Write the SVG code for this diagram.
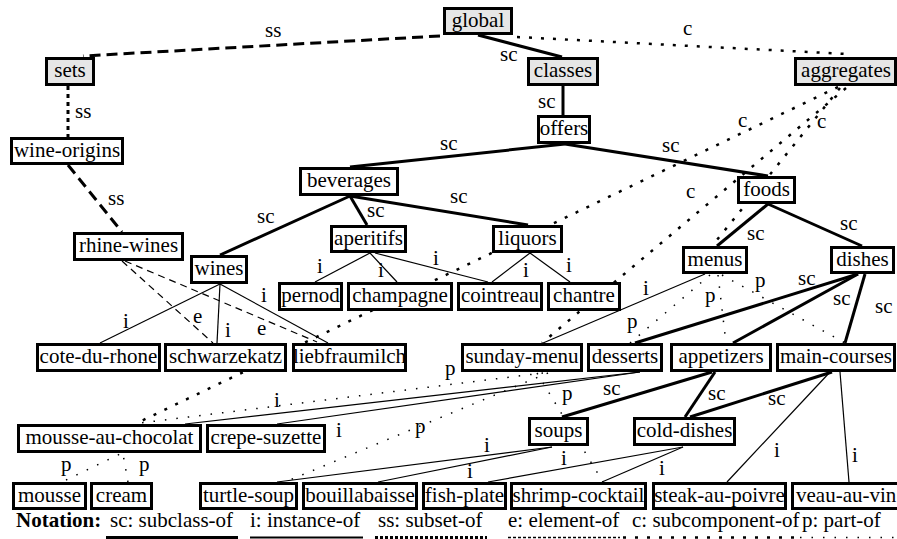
<svg xmlns="http://www.w3.org/2000/svg" width="897" height="539" viewBox="0 0 897 539" font-family="Liberation Serif" font-size="21">
<defs>
<rect id="bg" width="897" height="539" fill="#fff"/>
</defs>
<use href="#bg"/>
<g id="edges" fill="none" stroke="#000">
<g id="sc-edges" stroke-width="3">
<path d="M478,35L562,57"/>
<path d="M563,86L563,115"/>
<path d="M565,144L350,167"/>
<path d="M565,144L768,176"/>
<path d="M350,196L220,255"/>
<path d="M350,196L367,225"/>
<path d="M350,196L528,225"/>
<path d="M768,204L717,246"/>
<path d="M768,204L862,246"/>
<path d="M858,274L635,343"/>
<path d="M858,274L733,343"/>
<path d="M865,274L845,343"/>
<path d="M712,372L562,417"/>
<path d="M715,372L685,417"/>
<path d="M832,372L690,417"/>
</g>
<g id="i-edges" stroke-width="1.2">
<path d="M370,253L315,282"/>
<path d="M370,253L397,282"/>
<path d="M375,253L488,282"/>
<path d="M530,253L492,282"/>
<path d="M530,253L570,282"/>
<path d="M220,284L100,343"/>
<path d="M220,284L217,343"/>
<path d="M220,284L328,343"/>
<path d="M705,274L543,343"/>
<path d="M640,372L185,424"/>
<path d="M640,372L277,424"/>
<path d="M552,447L277,482"/>
<path d="M552,447L378,482"/>
<path d="M683,447L488,482"/>
<path d="M683,447L602,482"/>
<path d="M830,372L727,482"/>
<path d="M840,372L849,482"/>
</g>
<g id="ss-edges" stroke-width="3" stroke-dasharray="11 6">
<path d="M440,36L83,56"/>
<path d="M68,86L68,137" stroke-dasharray="4 4"/>
<path d="M68,165L122,232"/>
</g>
<g id="e-edges" stroke-width="1.2" stroke-dasharray="7 5">
<path d="M122,261L213,343"/>
<path d="M125,261L317,342"/>
</g>
<g id="c-edges" stroke-width="2.5" stroke-dasharray="3 9">
<path d="M517,37L847,54"/>
<path d="M838,87L135,424"/>
<path d="M846,88L542,343"/>
<path d="M840,88L712,246"/>
</g>
<g id="p-edges" stroke-width="1.5" stroke-dasharray="1.5 10">
<path d="M710,275L630,343"/>
<path d="M718,275L726,343"/>
<path d="M722,275L845,343"/>
<path d="M543,373L140,423"/>
<path d="M548,373L285,482"/>
<path d="M537,373L603,482"/>
<path d="M66,480L120,454"/>
<path d="M128,482L123,454"/>
</g>
<g id="edge-labels" fill="#000" stroke="none" font-family="Liberation Serif" font-size="21">
<text font-family="Liberation Serif" x="500" y="61">sc</text>
<text font-family="Liberation Serif" x="538" y="108">sc</text>
<text font-family="Liberation Serif" x="440" y="150">sc</text>
<text font-family="Liberation Serif" x="662" y="152">sc</text>
<text font-family="Liberation Serif" x="257" y="223">sc</text>
<text font-family="Liberation Serif" x="367" y="217">sc</text>
<text font-family="Liberation Serif" x="450" y="203">sc</text>
<text font-family="Liberation Serif" x="747" y="240">sc</text>
<text font-family="Liberation Serif" x="840" y="230">sc</text>
<text font-family="Liberation Serif" x="798" y="285">sc</text>
<text font-family="Liberation Serif" x="833" y="305">sc</text>
<text font-family="Liberation Serif" x="875" y="313">sc</text>
<text font-family="Liberation Serif" x="603" y="395">sc</text>
<text font-family="Liberation Serif" x="708" y="400">sc</text>
<text font-family="Liberation Serif" x="768" y="405">sc</text>
<text font-family="Liberation Serif" x="317" y="273">i</text>
<text font-family="Liberation Serif" x="378" y="277">i</text>
<text font-family="Liberation Serif" x="433" y="265">i</text>
<text font-family="Liberation Serif" x="523" y="277">i</text>
<text font-family="Liberation Serif" x="566" y="272">i</text>
<text font-family="Liberation Serif" x="123" y="328">i</text>
<text font-family="Liberation Serif" x="225" y="337">i</text>
<text font-family="Liberation Serif" x="261" y="302">i</text>
<text font-family="Liberation Serif" x="643" y="295">i</text>
<text font-family="Liberation Serif" x="274" y="407">i</text>
<text font-family="Liberation Serif" x="336" y="437">i</text>
<text font-family="Liberation Serif" x="484" y="452">i</text>
<text font-family="Liberation Serif" x="467" y="478">i</text>
<text font-family="Liberation Serif" x="561" y="465">i</text>
<text font-family="Liberation Serif" x="659" y="475">i</text>
<text font-family="Liberation Serif" x="774" y="457">i</text>
<text font-family="Liberation Serif" x="852" y="462">i</text>
<text font-family="Liberation Serif" x="265" y="37">ss</text>
<text font-family="Liberation Serif" x="75" y="118">ss</text>
<text font-family="Liberation Serif" x="108" y="205">ss</text>
<text font-family="Liberation Serif" x="193" y="323">e</text>
<text font-family="Liberation Serif" x="257" y="335">e</text>
<text font-family="Liberation Serif" x="683" y="35">c</text>
<text font-family="Liberation Serif" x="738" y="127">c</text>
<text font-family="Liberation Serif" x="817" y="128">c</text>
<text font-family="Liberation Serif" x="686" y="198">c</text>
<text font-family="Liberation Serif" x="627" y="328">p</text>
<text font-family="Liberation Serif" x="705" y="302">p</text>
<text font-family="Liberation Serif" x="755" y="287">p</text>
<text font-family="Liberation Serif" x="445" y="375">p</text>
<text font-family="Liberation Serif" x="415" y="433">p</text>
<text font-family="Liberation Serif" x="562" y="400">p</text>
<text font-family="Liberation Serif" x="61" y="471">p</text>
<text font-family="Liberation Serif" x="139" y="471">p</text>
</g>
</g>
<g id="nodes" font-family="Liberation Serif" font-size="21" text-anchor="middle">
<g id="global"><rect x="444.5" y="8.5" width="67" height="25" fill="#e6e6e6" stroke="#000" stroke-width="3"/><text font-family="Liberation Serif" x="478" y="27">global</text></g>
<g id="sets"><rect x="46.5" y="58.5" width="47" height="26" fill="#e6e6e6" stroke="#000" stroke-width="3"/><text font-family="Liberation Serif" x="70" y="77">sets</text></g>
<g id="classes"><rect x="528.5" y="58.5" width="69" height="26" fill="#e6e6e6" stroke="#000" stroke-width="3"/><text font-family="Liberation Serif" x="563" y="77">classes</text></g>
<g id="aggregates"><rect x="795.5" y="58.5" width="100" height="26" fill="#e6e6e6" stroke="#000" stroke-width="3"/><text font-family="Liberation Serif" x="846" y="77">aggregates</text></g>
<g id="offers"><rect x="538.5" y="116.5" width="51" height="26" fill="#fff" stroke="#000" stroke-width="3"/><text font-family="Liberation Serif" x="564" y="135">offers</text></g>
<g id="wine-origins"><rect x="11.5" y="138.5" width="111" height="25" fill="#fff" stroke="#000" stroke-width="3"/><text font-family="Liberation Serif" x="67" y="157">wine-origins</text></g>
<g id="beverages"><rect x="300.5" y="168.5" width="97" height="26" fill="#fff" stroke="#000" stroke-width="3"/><text font-family="Liberation Serif" x="349" y="187">beverages</text></g>
<g id="rhine-wines"><rect x="74.5" y="233.5" width="108" height="26" fill="#fff" stroke="#000" stroke-width="3"/><text font-family="Liberation Serif" x="128.5" y="252">rhine-wines</text></g>
<g id="wines"><rect x="191.5" y="256.5" width="55" height="26" fill="#fff" stroke="#000" stroke-width="3"/><text font-family="Liberation Serif" x="219" y="275">wines</text></g>
<g id="aperitifs"><rect x="331.5" y="226.5" width="74" height="25" fill="#fff" stroke="#000" stroke-width="3"/><text font-family="Liberation Serif" x="368.5" y="245">aperitifs</text></g>
<g id="liquors"><rect x="493.5" y="226.5" width="68" height="25" fill="#fff" stroke="#000" stroke-width="3"/><text font-family="Liberation Serif" x="527.5" y="245">liquors</text></g>
<g id="foods"><rect x="738.5" y="177.5" width="56" height="25" fill="#fff" stroke="#000" stroke-width="3"/><text font-family="Liberation Serif" x="766.5" y="196">foods</text></g>
<g id="menus"><rect x="683.5" y="247.5" width="63" height="25" fill="#fff" stroke="#000" stroke-width="3"/><text font-family="Liberation Serif" x="715" y="266">menus</text></g>
<g id="dishes"><rect x="831.5" y="247.5" width="62" height="25" fill="#fff" stroke="#000" stroke-width="3"/><text font-family="Liberation Serif" x="862.5" y="266">dishes</text></g>
<g id="pernod"><rect x="279.5" y="283.5" width="62" height="26" fill="#fff" stroke="#000" stroke-width="3"/><text font-family="Liberation Serif" x="310.5" y="302">pernod</text></g>
<g id="champagne"><rect x="348.5" y="283.5" width="103" height="26" fill="#fff" stroke="#000" stroke-width="3"/><text font-family="Liberation Serif" x="400" y="302">champagne</text></g>
<g id="cointreau"><rect x="458.5" y="283.5" width="83" height="26" fill="#fff" stroke="#000" stroke-width="3"/><text font-family="Liberation Serif" x="500" y="302">cointreau</text></g>
<g id="chantre"><rect x="548.5" y="283.5" width="71" height="26" fill="#fff" stroke="#000" stroke-width="3"/><text font-family="Liberation Serif" x="584" y="302">chantre</text></g>
<g id="cote-du-rhone"><rect x="37.5" y="344.5" width="122" height="26" fill="#fff" stroke="#000" stroke-width="3"/><text font-family="Liberation Serif" x="98.5" y="363">cote-du-rhone</text></g>
<g id="schwarzekatz"><rect x="165.5" y="344.5" width="120" height="26" fill="#fff" stroke="#000" stroke-width="3"/><text font-family="Liberation Serif" x="225.5" y="363">schwarzekatz</text></g>
<g id="liebfraumilch"><rect x="293.5" y="344.5" width="112" height="26" fill="#fff" stroke="#000" stroke-width="3"/><text font-family="Liberation Serif" x="349.5" y="363">liebfraumilch</text></g>
<g id="sunday-menu"><rect x="462.5" y="344.5" width="119" height="26" fill="#fff" stroke="#000" stroke-width="3"/><text font-family="Liberation Serif" x="522" y="363">sunday-menu</text></g>
<g id="desserts"><rect x="588.5" y="344.5" width="73" height="26" fill="#fff" stroke="#000" stroke-width="3"/><text font-family="Liberation Serif" x="625" y="363">desserts</text></g>
<g id="appetizers"><rect x="671.5" y="344.5" width="99" height="26" fill="#fff" stroke="#000" stroke-width="3"/><text font-family="Liberation Serif" x="721" y="363">appetizers</text></g>
<g id="main-courses"><rect x="777.5" y="344.5" width="117" height="26" fill="#fff" stroke="#000" stroke-width="3"/><text font-family="Liberation Serif" x="836" y="363">main-courses</text></g>
<g id="mousse-au-chocolat"><rect x="18.5" y="425.5" width="182" height="26" fill="#fff" stroke="#000" stroke-width="3"/><text font-family="Liberation Serif" x="109.5" y="444">mousse-au-chocolat</text></g>
<g id="crepe-suzette"><rect x="207.5" y="425.5" width="117" height="26" fill="#fff" stroke="#000" stroke-width="3"/><text font-family="Liberation Serif" x="266" y="444">crepe-suzette</text></g>
<g id="soups"><rect x="529.5" y="418.5" width="58" height="26" fill="#fff" stroke="#000" stroke-width="3"/><text font-family="Liberation Serif" x="558.5" y="437">soups</text></g>
<g id="cold-dishes"><rect x="634.5" y="418.5" width="100" height="26" fill="#fff" stroke="#000" stroke-width="3"/><text font-family="Liberation Serif" x="684.5" y="437">cold-dishes</text></g>
<g id="mousse"><rect x="13.5" y="483.5" width="72" height="25" fill="#fff" stroke="#000" stroke-width="3"/><text font-family="Liberation Serif" x="49.5" y="502">mousse</text></g>
<g id="cream"><rect x="91.5" y="483.5" width="60" height="25" fill="#fff" stroke="#000" stroke-width="3"/><text font-family="Liberation Serif" x="121.5" y="502">cream</text></g>
<g id="turtle-soup"><rect x="200.5" y="483.5" width="96" height="25" fill="#fff" stroke="#000" stroke-width="3"/><text font-family="Liberation Serif" x="248.5" y="502">turtle-soup</text></g>
<g id="bouillabaisse"><rect x="303.5" y="483.5" width="113" height="25" fill="#fff" stroke="#000" stroke-width="3"/><text font-family="Liberation Serif" x="360" y="502">bouillabaisse</text></g>
<g id="fish-plate"><rect x="423.5" y="483.5" width="82" height="25" fill="#fff" stroke="#000" stroke-width="3"/><text font-family="Liberation Serif" x="464.5" y="502">fish-plate</text></g>
<g id="shrimp-cocktail"><rect x="511.5" y="483.5" width="134" height="25" fill="#fff" stroke="#000" stroke-width="3"/><text font-family="Liberation Serif" x="578.5" y="502">shrimp-cocktail</text></g>
<g id="steak-au-poivre"><rect x="653.5" y="483.5" width="132" height="25" fill="#fff" stroke="#000" stroke-width="3"/><text font-family="Liberation Serif" x="719.5" y="502">steak-au-poivre</text></g>
<g id="veau-au-vin"><rect x="792.5" y="483.5" width="115" height="25" fill="#fff" stroke="#000" stroke-width="3"/><text font-family="Liberation Serif" x="796" y="502" text-anchor="start">veau-au-vin</text></g>
</g>
<g id="notation" font-family="Liberation Serif" font-size="21">
<text font-family="Liberation Serif" x="16" y="527" font-weight="bold">Notation:</text>
<text font-family="Liberation Serif" x="110" y="527">sc: subclass-of</text>
<text font-family="Liberation Serif" x="250" y="527">i: instance-of</text>
<text font-family="Liberation Serif" x="378" y="527">ss: subset-of</text>
<text font-family="Liberation Serif" x="508" y="527">e: element-of</text>
<text font-family="Liberation Serif" x="632" y="527">c: subcomponent-of</text>
<text font-family="Liberation Serif" x="802" y="527">p: part-of</text>
<g fill="none" stroke="#000">
<path d="M106,537.5H238" stroke-width="3"/>
<path d="M250,537.5H363" stroke-width="2"/>
<path d="M375,537.5H487" stroke-width="3" stroke-dasharray="3 2"/>
<path d="M508,537.5H620" stroke-width="1.5" stroke-dasharray="3 2"/>
<path d="M623,537.5H795" stroke-width="2.5" stroke-dasharray="3 9"/>
<path d="M800,537.5H897" stroke-width="1.5" stroke-dasharray="1.5 10"/>
</g>
</g>
</svg>
